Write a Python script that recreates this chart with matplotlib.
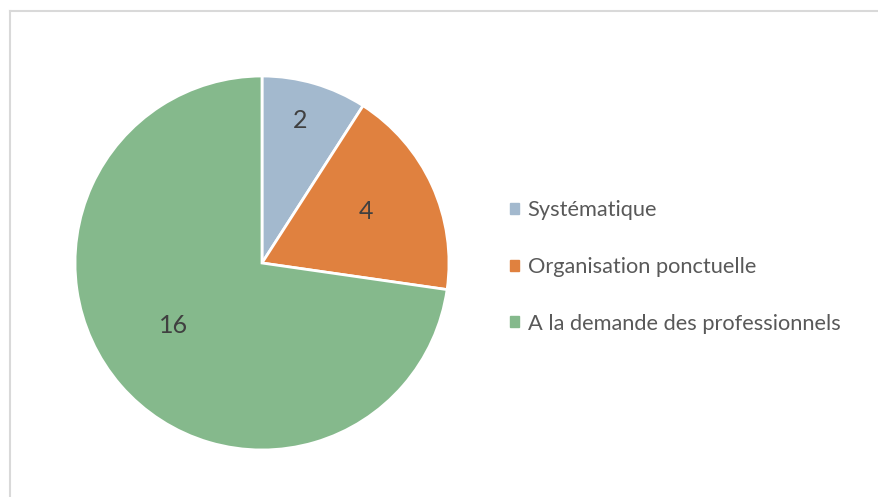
import numpy as np
import matplotlib.pyplot as plt
from matplotlib.lines import Line2D

labels = ["Systématique", "Organisation ponctuelle", "A la demande des professionnels"]
values = [2, 4, 16]
colors = ["#A3B9CE", "#E0813F", "#85B98C"]

plt.rcParams['font.family'] = ['Lato', 'DejaVu Sans']

fig = plt.figure(figsize=(8.79, 4.97), dpi=100)

# light grey frame, open on the right and bottom
fig.add_artist(Line2D([9.5 / 879, 9.5 / 879], [0, 1 - 10.5 / 497],
                      transform=fig.transFigure, color="#D9D9D9", lw=1.5))
fig.add_artist(Line2D([9.5 / 879, 1], [1 - 10.5 / 497, 1 - 10.5 / 497],
                      transform=fig.transFigure, color="#D9D9D9", lw=1.5))

ax = fig.add_axes([75 / 879, 47 / 497, 374 / 879, 374 / 497])
wedges, _ = ax.pie(values, colors=colors, startangle=90, counterclock=False,
                   wedgeprops=dict(edgecolor="white", linewidth=2))
ax.set_aspect("equal")
ax.set_xlim(-1, 1)
ax.set_ylim(-1, 1)

# value labels (best-fit style distances)
dist = [0.79, 0.62, 0.58]
shift = [1.5, 2.0, -6.0]
for w, v, d, s in zip(wedges, values, dist, shift):
    ang = np.deg2rad((w.theta1 + w.theta2) / 2 + s)
    ax.text(d * np.cos(ang), d * np.sin(ang), str(v), ha="center", va="center",
            fontsize=18, color="#404040")

handles = [plt.Rectangle((0, 0), 1, 1, color=c) for c in colors]
fig.legend(handles, labels, loc="center left", bbox_to_anchor=(490 / 879, 1 - 267 / 497),
           frameon=False, fontsize=15.7, labelcolor="#595959", handlelength=0.42,
           handleheight=0.42, handletextpad=0.4, labelspacing=1.68)

fig.savefig("out.png", dpi=100)
